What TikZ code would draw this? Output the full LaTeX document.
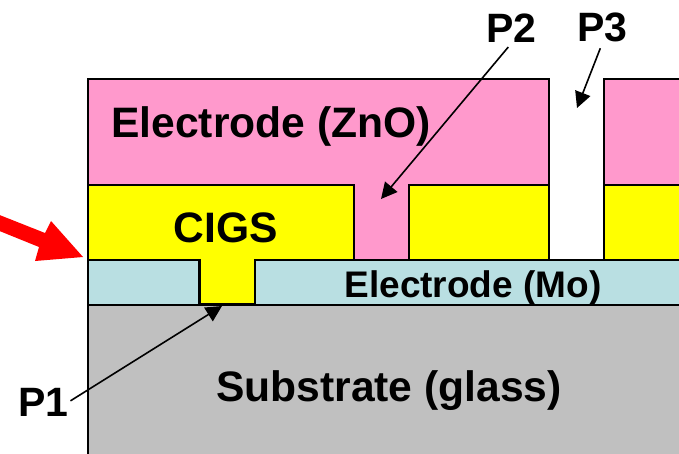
\documentclass[tikz,border=0pt]{standalone}
\usepackage{fontspec}
\setmainfont{Liberation Sans}
\usetikzlibrary{arrows.meta}
\definecolor{znopink}{HTML}{FF99CC}
\definecolor{cigsyellow}{HTML}{FFFF00}
\definecolor{moblue}{HTML}{B9DFE2}
\definecolor{glassgray}{HTML}{C0C0C0}
\tikzset{
	layer/.style = {draw = black, line width = 1.8pt, line join = miter},
	lbl/.style = {inner sep = 0pt, anchor = base, font = \bfseries\fontsize{42.6}{46}\selectfont},
	scribe/.style = {lbl, font = \bfseries\fontsize{41}{44}\selectfont},
	pointer/.style = {line width = 1.6pt, -{Triangle[length = 16pt, width = 16pt]}}
}
\begin{document}
\begin{tikzpicture} [x = 1pt, y = -1pt]
	\useasboundingbox (0,0) rectangle (679,454);
	% layers, bottom one first
	\draw [layer, fill = glassgray] (88,305) rectangle (695,470);
	\draw [layer, fill = moblue] (88,260) -- (199,260) -- (199,305) -- (88,305) -- cycle;
	\draw [layer, fill = moblue] (255,260) -- (695,260) -- (695,305) -- (255,305) -- cycle;
	\draw [layer, fill = cigsyellow] (88,185) -- (354,185) -- (354,260) -- (255,260) -- (255,304) -- (200,304) -- (200,260) -- (88,260) -- cycle;
	\draw [layer, fill = cigsyellow] (409,185) -- (549,185) -- (549,260) -- (409,260) -- cycle;
	\draw [layer, fill = cigsyellow] (604,185) -- (695,185) -- (695,260) -- (604,260) -- cycle;
	\draw [layer, fill = znopink] (88,79) -- (549,79) -- (549,185) -- (409,185) -- (409,260) -- (354,260) -- (354,185) -- (88,185) -- cycle;
	\draw [layer, fill = znopink] (604,79) -- (695,79) -- (695,185) -- (604,185) -- cycle;
	% labels
	\node [lbl] (zno) at (271,138) {Electrode (ZnO)};
	\node [lbl] (cigs) at (226,242) {CIGS};
	\node [lbl, font = \bfseries\fontsize{37}{40}\selectfont] (mo) at (473,297) {Electrode (Mo)};
	\node [lbl] (glass) at (389,401) {Substrate (glass)};
	\node [scribe] (P1) at (43.5,416) {P1};
	\node [scribe] (P2) at (511.5,43) {P2};
	\node [scribe] (P3) at (602.5,42) {P3};
	% scribe lines
	\coordinate (P1tip) at (222,306);
	\coordinate (P2tip) at (381,199);
	\coordinate (P3tip) at (577,108);
	\draw [pointer, shorten <= 2pt] (P1.east) -- (P1tip);
	\draw [pointer, shorten <= 5pt] (P2.south) -- (P2tip);
	\draw [pointer, shorten <= 6pt] (P3.south) -- (P3tip);
	% red arrow
	\fill [red] (-3,214) -- (45,233) -- (51,221) -- (83,257) -- (35,261) -- (39,247) -- (-3,230) -- cycle;
\end{tikzpicture}
\end{document}
